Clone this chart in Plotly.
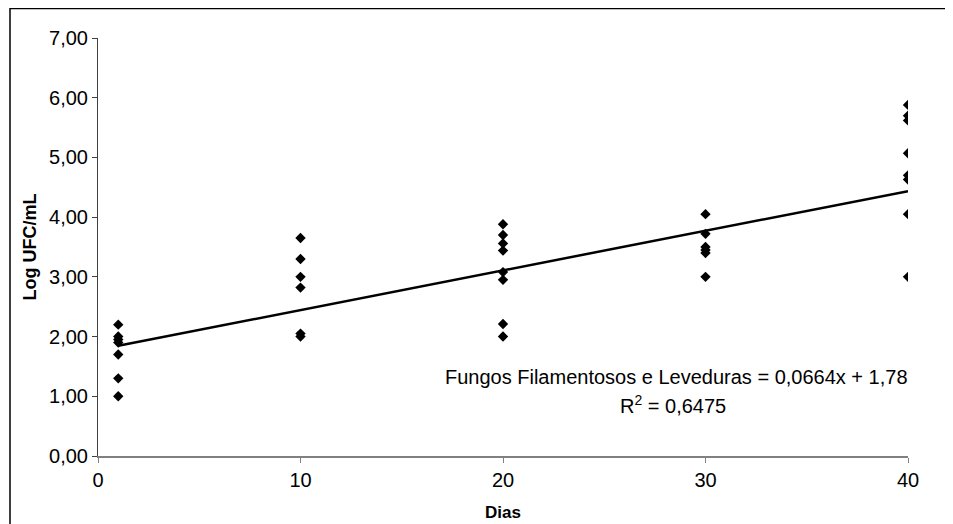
import plotly.graph_objects as go

dias = [1]*7 + [10]*6 + [20]*8 + [30]*6 + [40]*8
log_ufc = [2.20, 2.00, 1.95, 1.90, 1.70, 1.30, 1.00,
           3.65, 3.30, 3.00, 2.82, 2.05, 2.00,
           3.88, 3.70, 3.56, 3.44, 3.08, 2.95, 2.21, 2.00,
           4.05, 3.72, 3.50, 3.45, 3.40, 3.00,
           5.88, 5.70, 5.62, 5.07, 4.70, 4.63, 4.05, 3.00]
slope = 0.0664
intercept = 1.78
trend_x = [1, 40]
trend_y = [slope * v + intercept for v in trend_x]
x_ticks = [0, 10, 20, 30, 40]
y_ticks = [0, 1, 2, 3, 4, 5, 6, 7]

fig = go.Figure()
fig.add_trace(go.Scatter(x=trend_x, y=trend_y, mode="lines",
                         line=dict(color="black", width=2.5), showlegend=False))
fig.add_trace(go.Scatter(x=dias, y=log_ufc, mode="markers",
                         marker=dict(symbol="diamond", size=8, color="black"),
                         showlegend=False))

font = "Liberation Sans, Arial, sans-serif"
L, T, PW, PH = 90, 30, 810, 418
fig.update_layout(
    width=953, height=524,
    margin=dict(l=L, r=953 - L - PW, t=T, b=524 - T - PH),
    paper_bgcolor="white", plot_bgcolor="white",
    separators=",.",
    font=dict(family=font, size=20, color="black"),
    xaxis=dict(range=[0, 40], tickvals=x_ticks, showgrid=False, zeroline=False,
               showline=True, linecolor="#808080", linewidth=1.5,
               ticks="outside", ticklen=5, tickcolor="#808080",
               title=dict(text="<b>Dias</b>", font=dict(size=17), standoff=16)),
    yaxis=dict(range=[0, 7], tickvals=y_ticks, tickformat=".2f", showgrid=False,
               zeroline=False, showline=True, linecolor="#404040", linewidth=1,
               ticks="outside", ticklen=5, tickcolor="#404040",
               title=dict(text="<b>Log UFC/mL</b>", font=dict(size=18), standoff=7)),
    annotations=[
        dict(x=28.56, y=1.32, xref="x", yref="y", showarrow=False,
             text="Fungos Filamentosos e Leveduras = 0,0664x + 1,78",
             font=dict(size=20)),
        dict(x=28.4, y=0.87, xref="x", yref="y", showarrow=False,
             text="R<sup>2</sup> = 0,6475", font=dict(size=20)),
    ],
    shapes=[dict(type="rect", xref="paper", yref="paper",
                 x0=(2 - L) / PW, x1=(939 - L) / PW,
                 y0=-0.3, y1=1 + (T - 0.5) / PH,
                 line=dict(color="black", width=1.5))],
)
fig.write_html("out.html")
